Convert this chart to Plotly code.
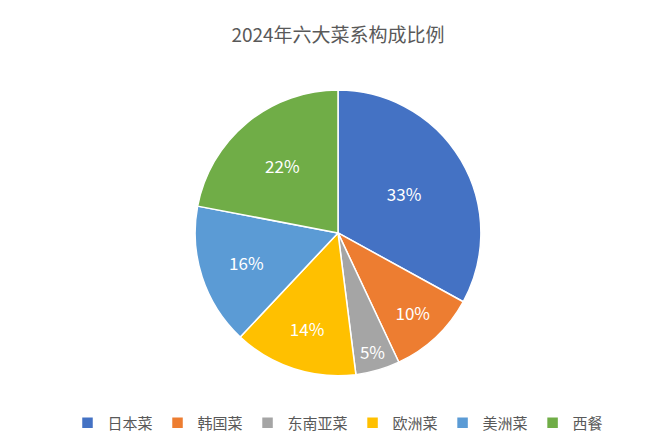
import plotly.graph_objects as go

labels = ["日本菜", "韩国菜", "东南亚菜", "欧洲菜", "美洲菜", "西餐"]
values = [33, 10, 5, 14, 16, 22]
colors = ["#4472C4", "#ED7D31", "#A5A5A5", "#FFC000", "#5B9BD5", "#70AD47"]

fig = go.Figure(go.Pie(
    labels=labels, values=values, sort=False, direction="clockwise", rotation=0,
    marker=dict(colors=colors, line=dict(color="white", width=1.5)),
    texttemplate="%{value}%", textposition="inside",
    insidetextorientation="horizontal",
    textfont=dict(color="white", size=17, family="Noto Sans CJK SC"),
    domain=dict(x=[0.283, 0.717], y=[0.166, 0.814]),
))
fig.update_layout(
    width=660, height=441,
    margin=dict(l=0, r=0, t=0, b=0),
    paper_bgcolor="white",
    font=dict(family="Noto Sans CJK SC", color="#595959"),
    title=dict(text="2024年六大菜系构成比例", x=0.5, xanchor="center", y=0.937, yanchor="middle",
               font=dict(size=19, color="#595959")),
    legend=dict(orientation="h", x=0.5, xanchor="center", y=0.059, yanchor="middle",
                font=dict(size=15, color="#595959")),
    showlegend=True,
)
fig.write_html("out.html")
